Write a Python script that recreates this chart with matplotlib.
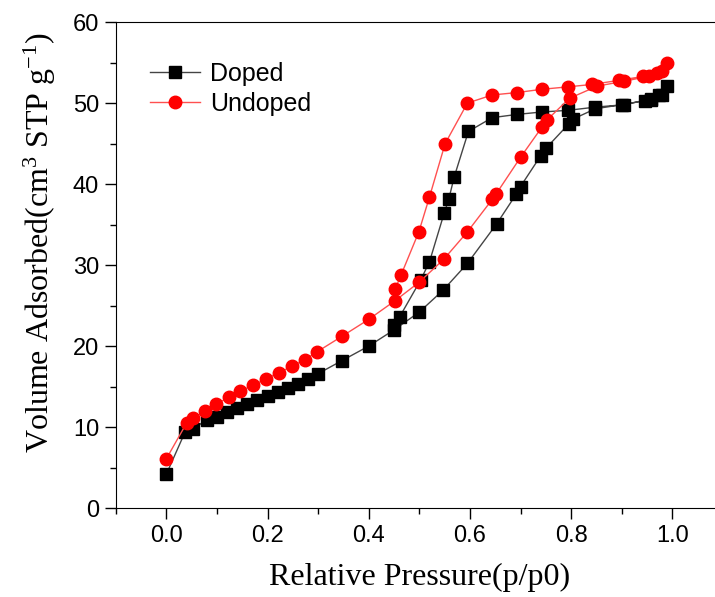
import matplotlib
matplotlib.use('Agg')
import matplotlib.pyplot as plt
from matplotlib.ticker import MultipleLocator

plt.rcParams['mathtext.fontset'] = 'custom'
plt.rcParams['mathtext.rm'] = 'Liberation Serif'
plt.rcParams['mathtext.it'] = 'Liberation Serif:italic'

# Doped sample: adsorption branch then desorption branch
doped_p = [0.0, 0.037, 0.053, 0.08, 0.10, 0.12, 0.14, 0.16, 0.18, 0.20, 0.22, 0.24, 0.26,
           0.28, 0.30, 0.347, 0.40, 0.45, 0.50, 0.547, 0.595, 0.653, 0.692, 0.70, 0.74,
           0.75, 0.795, 0.803, 0.848, 0.90, 0.946, 0.957, 0.973, 0.99,
           0.98, 0.957, 0.905, 0.848, 0.793, 0.742, 0.693, 0.644, 0.597, 0.569, 0.558,
           0.549, 0.52, 0.503, 0.461, 0.45]
doped_v = [4.2, 9.4, 9.8, 10.9, 11.3, 11.8, 12.3, 12.8, 13.3, 13.8, 14.3, 14.8, 15.3,
           15.9, 16.6, 18.2, 20.0, 22.0, 24.2, 26.9, 30.2, 35.1, 38.8, 39.7, 43.5,
           44.4, 47.4, 48.0, 49.3, 49.8, 50.3, 50.4, 51.0, 52.1,
           51.0, 50.5, 49.8, 49.5, 49.1, 48.9, 48.6, 48.2, 46.5, 40.9, 38.1,
           36.4, 30.4, 28.2, 23.6, 22.6]

# Undoped sample
undoped_p = [0.0, 0.04, 0.053, 0.077, 0.099, 0.123, 0.145, 0.172, 0.196, 0.222, 0.248,
             0.273, 0.298, 0.347, 0.40, 0.452, 0.50, 0.548, 0.595, 0.644, 0.652, 0.70,
             0.742, 0.752, 0.797, 0.852, 0.905, 0.953, 0.97, 0.99,
             0.98, 0.943, 0.894, 0.841, 0.793, 0.742, 0.693, 0.644, 0.595, 0.551,
             0.52, 0.499, 0.464, 0.452]
undoped_v = [6.1, 10.5, 11.1, 12.0, 12.8, 13.7, 14.4, 15.2, 15.9, 16.7, 17.5,
             18.3, 19.3, 21.2, 23.3, 25.6, 27.9, 30.7, 34.1, 38.1, 38.8, 43.3,
             47.0, 47.9, 50.6, 52.1, 52.7, 53.3, 53.7, 54.9,
             53.9, 53.3, 52.8, 52.3, 52.0, 51.7, 51.3, 51.0, 50.0, 45.0,
             38.4, 34.1, 28.8, 27.0]

fig = plt.figure(figsize=(7.15, 5.97), dpi=100)
ax = fig.add_axes([0.162, 0.149, 0.849, 0.814])

ax.plot(doped_p, doped_v, color='#444444', linewidth=1, marker='s', markersize=8,
        markerfacecolor='black', markeredgecolor='black', label='Doped')
ax.plot(undoped_p, undoped_v, color='#ff5050', linewidth=1, marker='o', markersize=9,
        markerfacecolor='red', markeredgecolor='red', label='Undoped')

ax.set_xlim(-0.1, 1.1)
ax.set_ylim(0, 60)
ax.xaxis.set_minor_locator(MultipleLocator(0.1))
ax.yaxis.set_major_locator(MultipleLocator(10))
ax.yaxis.set_minor_locator(MultipleLocator(5))
ax.set_xticks([0.0, 0.2, 0.4, 0.6, 0.8, 1.0])
ax.set_xticklabels(['0.0', '0.2', '0.4', '0.6', '0.8', '1.0'])
ax.tick_params(which='major', direction='out', length=8, width=1, pad=4,
               labelsize=17, top=False, right=False)
ax.tick_params(which='minor', direction='out', length=4, width=1, top=False, right=False)
for lab in ax.get_xticklabels() + ax.get_yticklabels():
    lab.set_family('Liberation Sans')
ax.spines['right'].set_visible(False)

ax.set_xlabel('Relative Pressure(p/p0)', family='Liberation Serif', fontsize=23, labelpad=12)
ax.set_ylabel('Volume Adsorbed(cm$^3$ STP g$^{-1}$)', family='Liberation Serif',
              fontsize=23)
ax.yaxis.set_label_coords(-0.095, 0.547)

leg = ax.legend(loc='upper left', bbox_to_anchor=(0.02, 0.965), frameon=False,
                prop={'family': 'Liberation Sans', 'size': 18}, handlelength=2.0,
                labelspacing=0.25, handletextpad=0.4)

fig.savefig('out.png', dpi=100)
